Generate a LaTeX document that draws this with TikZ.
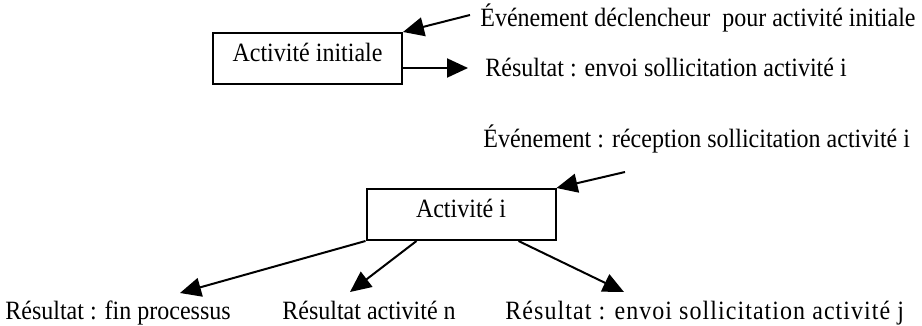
\documentclass[tikz,border=0pt]{standalone}
\usepackage{fontspec}
\setmainfont{Liberation Serif}
\newfontfamily\spacedserif[LetterSpace=4.4]{Liberation Serif}
\usepackage{graphicx}
\usetikzlibrary{arrows.meta}
\newcommand{\tallt}[1]{\scalebox{1}[1.1]{#1}}
\begin{document}
\begin{tikzpicture}[x=0.5pt,y=-0.5pt,
  font=\fontsize{12}{14}\selectfont,
  lbl/.style={anchor=base west, inner sep=0pt},
  actbox/.style={draw, line width=1pt, inner sep=0pt, minimum width=94.5pt,
    minimum height=25.5pt, text height=8pt, text depth=4.5pt},
  arr/.style={-{Triangle[length=10.5pt,width=9.5pt]}, line width=1pt}]
\useasboundingbox (0,0) rectangle (922,326);
% boxes
\node[actbox] (b1) at (307.5,58.5) {\tallt{Activité initiale}};
\node[actbox] (b2) at (461,214.5) {\tallt{Activité i}};
% labels
\node[lbl] (e1) at (480,27) {\tallt{Événement déclencheur\ \ pour activité initiale}};
\node[lbl] (r1) at (485,77) {\tallt{Résultat : envoi sollicitation activité i}};
\node[lbl] (e2) at (483,148) {\tallt{Événement : réception sollicitation activité i}};
\node[lbl] (o1) at (5,320) {\tallt{Résultat : fin processus}};
\node[lbl] (o2) at (282,320) {\tallt{Résultat activité n}};
\node[lbl] (o3) at (505,320) {\tallt{\spacedserif Résultat : envoi sollicitation activité j}};
% connector ends
\coordinate (s1) at (470,15);
\coordinate (q1) at (468,68);
\coordinate (s2) at (625,172);
\coordinate (p1) at (180,293);
\coordinate (p2) at (350,292);
\coordinate (p3) at (624,292);
% connectors
\draw[arr] (s1) -- (b1.north east);
\draw[arr] (b1.east |- q1) -- (q1);
\draw[arr] (s2) -- (b2.north east);
\draw[arr] (b2.south west) -- (p1);
\draw[arr] ([xshift=25.5pt]b2.south west) -- (p2);
\draw[arr] ([xshift=76.5pt]b2.south west) -- (p3);
\end{tikzpicture}
\end{document}
